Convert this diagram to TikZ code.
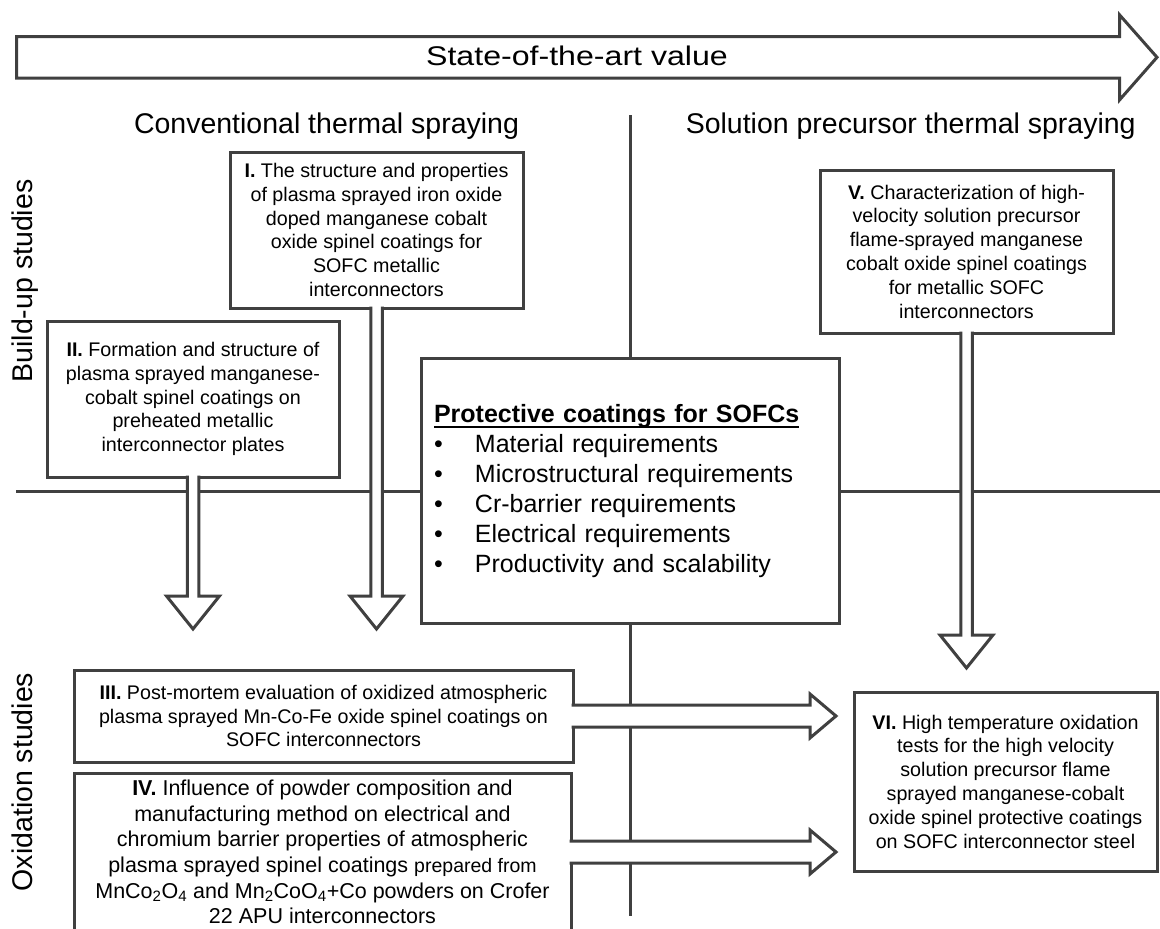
\documentclass[tikz,border=0pt]{standalone}
\usepackage{fontspec}
\setmainfont{Liberation Sans}
\usetikzlibrary{calc}
\usetikzlibrary{positioning}
\definecolor{linegray}{RGB}{64,64,64}
\tikzset{
    mybox/.style = {rectangle, draw=linegray, line width=3pt, fill=white, align=center, inner sep=0pt, outer sep=0pt, text=black, font=\fontsize{19.7}{23.8}\selectfont},
    myboxl/.style = {mybox, font=\fontsize{21.5}{25.7}\selectfont},
    mycore/.style = {rectangle, draw=linegray, line width=3pt, fill=white, align=left, inner sep=0pt, outer sep=0pt, text width=392pt, text=black, font=\fontsize{25}{30}\selectfont},
    mytitle/.style = {inner sep=0pt, text=black, font=\fontsize{28.5}{34}\selectfont},
    edgel/.style = {-, line width=3pt, linegray}, % dividers and block arrows
}
% hollow block arrows, start on a box border, end at a tip
\newcommand{\fatdown}[2]{%
  \draw[edgel, fill=white] ($(#1)+(-5.75,-1.5)$) -- ($(#2)+(-5.75,-33)$) -- ($(#2)+(-26.5,-33)$) -- (#2)
      -- ($(#2)+(26.5,-33)$) -- ($(#2)+(5.75,-33)$) -- ($(#1)+(5.75,-1.5)$);
}
\newcommand{\fatright}[2]{%
  \draw[edgel, fill=white] ($(#1)+(-1.5,-11)$) -- ($(#2)+(-26,-11)$) -- ($(#2)+(-26,-22)$) -- (#2)
      -- ($(#2)+(-26,22)$) -- ($(#2)+(-26,11)$) -- ($(#1)+(-1.5,11)$);
}
\newcommand{\coreul}[1]{\setbox0\hbox{#1}\rlap{\rule[-5.5pt]{\wd0}{2pt}}\box0}
\newcommand{\corebullet}{\makebox[41pt][l]{\textbullet}}

\begin{document}
\begin{tikzpicture}[x=1pt, y=-1pt]
\useasboundingbox (0,0) rectangle (1160,929);
\clip (0,0) rectangle (1160,929);
\fill[white] (0,0) rectangle (1160,929);

% dividers
\draw[edgel] (16,491) -- (1160,491);
\draw[edgel] (630,115) -- (630,916);

% top arrow
\draw[edgel, fill=white] (16.5,36.5) -- (1119.5,36.5) -- (1119.5,14.8) -- (1157,57.3)
    -- (1119.5,100) -- (1119.5,78) -- (16.5,78) -- cycle;
\node[inner sep=0pt, font=\fontsize{27}{32}\selectfont] at (577,56) (state) {\scalebox{1.19}[1]{State-of-the-art value}};

\node[mytitle, anchor=base] at (326.5,133) (conv) {Conventional thermal spraying};
\node[mytitle, anchor=base] at (910.7,133) (spts) {Solution precursor thermal spraying};
\node[mytitle, rotate=90, anchor=base] at (32.5,281) (build) {Build-up studies};
\node[mytitle, rotate=90, anchor=base] at (32.5,782) (oxid) {Oxidation studies};

\node[mybox, minimum width=293pt, minimum height=156pt] at (376.5,230) (I) {\textbf{I.} The structure and properties\\of plasma sprayed iron oxide\\doped manganese cobalt\\oxide spinel coatings for\\SOFC metallic\\interconnectors};
\node[mybox, minimum width=292pt, minimum height=156pt] at (193,399) (II) {\textbf{II.} Formation and structure of\\plasma sprayed manganese-\\cobalt spinel coatings on\\preheated metallic\\interconnector plates};
\node[mybox, minimum width=293pt, minimum height=163pt] at (966.5,251.5) (V) {\textbf{V.} Characterization of high-\\velocity solution precursor\\flame-sprayed manganese\\cobalt oxide spinel coatings\\for metallic SOFC\\interconnectors};
\node[mycore, minimum width=418pt, minimum height=265pt] at (630,491) (core) {\coreul{\textbf{Protective coatings for SOFCs}}\\
    \corebullet Material requirements\\
    \corebullet Microstructural requirements\\
    \corebullet Cr-barrier requirements\\
    \corebullet Electrical requirements\\
    \corebullet Productivity and scalability};
\node[mybox, minimum width=499pt, minimum height=92pt] at (323.5,716) (III) {\textbf{III.} Post-mortem evaluation of oxidized atmospheric\\plasma sprayed Mn-Co-Fe oxide spinel coatings on\\SOFC interconnectors};
\node[myboxl, minimum width=497pt, minimum height=158pt] at (322.5,852) (IV) {\textbf{IV.} Influence of powder composition and\\manufacturing method on electrical and\\chromium barrier properties of atmospheric\\plasma sprayed spinel coatings {\fontsize{19.5}{25.7}\selectfont prepared from}\\MnCo\textsubscript{2}O\textsubscript{4} and Mn\textsubscript{2}CoO\textsubscript{4}+Co powders on Crofer\\22 APU interconnectors};
\node[mybox, minimum width=303pt, minimum height=179pt] at (1005.5,781.5) (VI) {\textbf{VI.} High temperature oxidation\\tests for the high velocity\\solution precursor flame\\sprayed manganese-cobalt\\oxide spinel protective coatings\\on SOFC interconnector steel};

\coordinate (tipI) at (I.south |- 0,629);
\coordinate (tipII) at (II.south |- 0,629);
\coordinate (tipV) at (V.south |- 0,668);
\coordinate (tipIII) at ($(VI.west |- III.east)+(-18,0)$);
\coordinate (tipIV) at ($(VI.west |- IV.east)+(-18,0)$);

\fatdown{I.south}{tipI}
\fatdown{II.south}{tipII}
\fatdown{V.south}{tipV}
\fatright{III.east}{tipIII}
\fatright{IV.east}{tipIV}

\end{tikzpicture}
\end{document}
